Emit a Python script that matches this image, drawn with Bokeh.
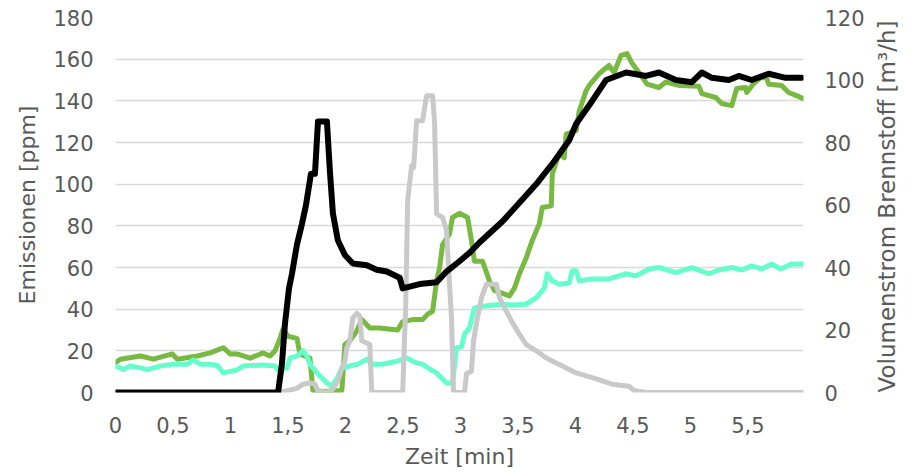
import math
from bokeh.plotting import figure
from bokeh.models import Range1d, LinearAxis, FixedTicker, CustomJSTickFormatter
from bokeh.embed import file_html
from bokeh.resources import INLINE

# ---------------- data ----------------
x_ticks = [0, 0.5, 1, 1.5, 2, 2.5, 3, 3.5, 4, 4.5, 5, 5.5]
y_ticks_left = [0, 20, 40, 60, 80, 100, 120, 140, 160, 180]
y_ticks_right = [0, 20, 40, 60, 80, 100, 120]

# green emission series [ppm]
green_t = [0, 0.043, 0.217, 0.330, 0.494, 0.538, 0.711, 0.824, 0.937, 0.997, 1.058, 1.171,
           1.284, 1.344, 1.388, 1.431, 1.457, 1.500, 1.578, 1.604, 1.691, 1.717, 1.821,
           1.969, 1.995, 2.038, 2.099, 2.142, 2.212, 2.298, 2.454, 2.498, 2.585, 2.671,
           2.715, 2.758, 2.793, 2.819, 2.845, 2.905, 2.931, 2.992, 3.062, 3.096, 3.122,
           3.192, 3.252, 3.296, 3.365, 3.426, 3.469, 3.513, 3.573, 3.625, 3.686, 3.712,
           3.790, 3.799, 3.859, 3.903, 3.920, 4.007, 4.033, 4.094, 4.120, 4.206, 4.293,
           4.337, 4.397, 4.449, 4.493, 4.553, 4.623, 4.727, 4.787, 4.900, 5.074, 5.100,
           5.221, 5.273, 5.360, 5.403, 5.481, 5.490, 5.551, 5.611, 5.663, 5.681, 5.794,
           5.854, 5.924, 5.984]
green_v = [14.3, 16, 17.5, 16, 18.5, 16, 17.5, 19, 21.5, 18.5, 18.5, 16.5,
           19, 17.5, 20, 26, 30.5, 27, 26, 18.5, 16.5, 1, 0.5,
           1, 23, 24.8, 29.6, 35, 31, 31, 30, 34, 35, 35,
           37.6, 39, 53.6, 60, 71, 76, 84, 86, 84, 73, 63,
           63, 53.6, 49, 47.6, 46.4, 50, 57, 64.7, 73, 81, 88.8,
           89.6, 104.9, 114.6, 112.7, 124, 125.7, 135, 145, 147.4, 153, 157,
           153.6, 161.8, 162.7, 158, 153.6, 148, 146.4, 149, 147.4, 147, 143.5,
           141.6, 138.7, 137.7, 145.9, 146.4, 144, 148.3, 151.2, 151, 148, 147.4,
           144, 142.5, 141]

# cyan emission series [ppm]
cyan_t = [0, 0.069, 0.130, 0.217, 0.278, 0.390, 0.503, 0.624, 0.676, 0.737, 0.824, 0.885,
          0.937, 1.058, 1.110, 1.284, 1.388, 1.414, 1.492, 1.518, 1.578, 1.631, 1.665,
          1.691, 1.761, 1.839, 1.882, 1.925, 1.969, 2.038, 2.108, 2.186, 2.238, 2.324,
          2.446, 2.533, 2.619, 2.671, 2.732, 2.793, 2.836, 2.879, 2.931, 2.966, 3.010,
          3.036, 3.079, 3.122, 3.227, 3.365, 3.452, 3.573, 3.660, 3.729, 3.755, 3.799,
          3.859, 3.946, 3.972, 4.007, 4.033, 4.146, 4.293, 4.441, 4.527, 4.614, 4.640,
          4.727, 4.874, 5.013, 5.161, 5.247, 5.360, 5.447, 5.533, 5.620, 5.707, 5.785,
          5.880, 5.984]
cyan_v = [12.7, 11, 12.7, 11.8, 11, 12.7, 13.6, 13.6, 15.6, 13.6, 13.6, 13,
          9.4, 10.8, 12.7, 13.2, 12.7, 10.8, 11.8, 16.6, 17.5, 20, 17.5,
          13.6, 8.9, 4.6, 3.1, 6.5, 11.8, 12.7, 13.6, 16, 13.6, 13.6,
          15, 16.6, 14.2, 13.6, 11.3, 9.4, 7, 4.6, 4.6, 21.4, 22,
          28, 31, 40.6, 41.6, 42.4, 42, 42.4, 45.5, 50, 57, 53.6,
          52, 52.6, 58.4, 58.4, 53.6, 54.5, 54.5, 57, 56, 58.4, 59.3,
          60, 57.5, 59.9, 57, 58.8, 60, 58.8, 60.8, 59.3, 61.7, 59.3,
          61.7, 61.7]

# grey emission series [ppm]
grey_t = [0, 1.431, 1.578, 1.631, 1.691, 1.735, 1.761, 1.839, 1.891, 1.934, 1.969, 1.995,
          2.012, 2.038, 2.064, 2.099, 2.125, 2.142, 2.212, 2.229, 2.498, 2.515, 2.524,
          2.541, 2.576, 2.593, 2.619, 2.671, 2.706, 2.758, 2.775, 2.793, 2.845, 2.879,
          2.897, 2.923, 2.940, 3.036, 3.053, 3.096, 3.114, 3.148, 3.183, 3.227, 3.313,
          3.339, 3.400, 3.443, 3.513, 3.573, 3.660, 3.747, 3.833, 3.920, 4.007, 4.181,
          4.319, 4.467, 4.510, 4.614, 5.984]
grey_v = [0, 0, 2, 4, 4.6, 4, 0.7, 0, 1.6, 5.5, 11.8, 15,
          21.4, 24.8, 35.8, 38, 36.7, 24.8, 23, 0, 0, 28, 40.6,
          92, 109, 108, 130.5, 130.5, 142.5, 142.5, 129.6, 85.7, 84, 78,
          60, 35, 0, 0, 9, 10.3, 24.8, 35.8, 45.5, 52, 52,
          45.5, 39, 34.4, 28, 23, 20, 16.6, 14.2, 11.8, 9.4, 6.5,
          4, 3, 1, 0, 0]

# black series: fuel volume flow [m3/h] (right axis)
black_t = [0, 1.414, 1.448, 1.474, 1.509, 1.535, 1.578, 1.622, 1.657, 1.700, 1.735, 1.761,
           1.839, 1.865, 1.891, 1.934, 1.995, 2.064, 2.186, 2.272, 2.359, 2.472, 2.498,
           2.645, 2.793, 2.879, 2.992, 3.079, 3.166, 3.365, 3.513, 3.660, 3.816, 3.946,
           4.007, 4.146, 4.267, 4.441, 4.614, 4.727, 4.874, 5.013, 5.100, 5.187, 5.334,
           5.421, 5.533, 5.681, 5.828, 5.967]
black_v = [0, 0, 9.3, 22, 33.3, 38, 47.3, 54, 60, 70, 70, 86.7,
           86.7, 70.7, 57.3, 48.7, 44, 41.3, 40.7, 39.3, 38.7, 36.7, 33.3,
           34.7, 35.3, 38.7, 42, 44.7, 48, 54.7, 60.7, 66.7, 74, 80.7,
           86, 93.3, 100, 102.4, 101.3, 102.4, 100, 99.3, 102.4, 100.7, 100,
           101.3, 100, 102, 100.7, 100.7]

x_title = "Zeit [min]"
y_title_left = "Emissionen [ppm]"
y_title_right = "Volumenstrom Brennstoff [m³/h]"

# ---------------- figure ----------------
FONT = "DejaVu Sans"
TXT = "#595959"

p = figure(width=915, height=472, output_backend="svg", toolbar_location=None,
           x_range=Range1d(0, 5.984), y_range=Range1d(0, 180),
           min_border_left=115, min_border_right=110, min_border_top=17,
           min_border_bottom=80)
p.extra_y_ranges = {"vol": Range1d(0, 120)}
p.outline_line_color = None
p.background_fill_color = "white"
p.border_fill_color = "white"
p.xgrid.visible = False
p.ygrid.grid_line_color = "#D9D9D9"
p.ygrid.grid_line_width = 1.5
p.ygrid.ticker = FixedTicker(ticks=y_ticks_left)


def style(ax, standoff, label_standoff, title_size="22px"):
    ax.axis_line_color = None
    ax.major_tick_line_color = None
    ax.minor_tick_line_color = None
    ax.major_tick_out = 0
    ax.major_tick_in = 0
    ax.minor_tick_out = 0
    ax.major_label_text_font = FONT
    ax.major_label_text_font_size = "21px"
    ax.major_label_text_color = TXT
    ax.major_label_standoff = standoff
    ax.axis_label_text_font = FONT
    ax.axis_label_text_font_size = title_size
    ax.axis_label_text_font_style = "normal"
    ax.axis_label_text_color = TXT
    ax.axis_label_standoff = label_standoff


xa = p.xaxis[0]
xa.ticker = FixedTicker(ticks=x_ticks)
xa.formatter = CustomJSTickFormatter(code="return tick.toString().replace('.', ',');")
xa.axis_label = x_title
style(xa, 24, 8)

ya = p.yaxis[0]
ya.ticker = FixedTicker(ticks=y_ticks_left)
ya.axis_label = y_title_left
style(ya, 22, 10)

ra = LinearAxis(y_range_name="vol", ticker=FixedTicker(ticks=y_ticks_right),
                axis_label=y_title_right)
style(ra, 21, 19, "23px")
ra.axis_label_orientation = math.pi / 2
ra.axis_label_align = "start"
p.add_layout(ra, "right")

p.line(green_t, green_v, line_color="#77B941", line_width=5, line_join="round", line_cap="round")
p.line(cyan_t, cyan_v, line_color="#66FFCC", line_width=5, line_join="round", line_cap="round")
p.line(grey_t, grey_v, line_color="#C9C9C9", line_width=5, line_join="round", line_cap="round")
p.line(black_t, black_v, y_range_name="vol", line_color="#000000", line_width=6,
       line_join="round", line_cap="round")

open("out.html", "w").write(file_html(p, INLINE))
